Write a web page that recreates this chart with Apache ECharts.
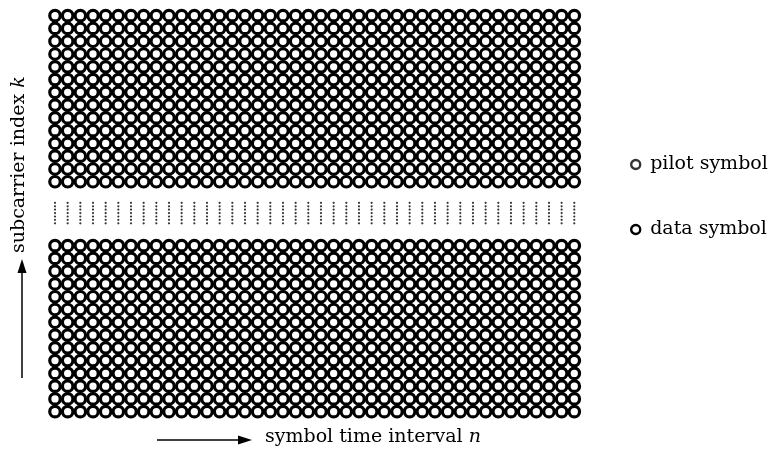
<!DOCTYPE html>
<html>
<head>
<meta charset="utf-8">
<script src="https://cdn.jsdelivr.net/npm/echarts@6/dist/echarts.min.js"></script>
<style>html,body{margin:0;padding:0;background:#fff}#c{width:782px;height:456px}</style>
</head>
<body>
<div id="c"></div>
<script>
// symbol time interval n (columns)
const symbolTimes = [0,1,2,3,4,5,6,7,8,9,10,11,12,13,14,15,16,17,18,19,20,21,22,23,24,25,26,27,28,29,30,31,32,33,34,35,36,37,38,39,40,41];
// subcarrier index k (rows), lower and upper blocks
const lowerSubcarriers = [0,1,2,3,4,5,6,7,8,9,10,11,12,13];
const upperSubcarriers = [18,19,20,21,22,23,24,25,26,27,28,29,30,31];
// vertical ellipsis dots between the blocks
const ellipsisLevels = [14.75,15.02,15.28,15.55,15.82,16.08,16.35];
// legend / axis texts
const legendNames = ['pilot symbol','data symbol'];
const xTitle = 'symbol time interval ';
const xVar = 'n';
const yTitle = 'subcarrier index ';
const yVar = 'k';

const circleData = [];
symbolTimes.forEach(n => {
  lowerSubcarriers.forEach(k => circleData.push([n,k]));
  upperSubcarriers.forEach(k => circleData.push([n,k]));
});
const dotData = [];
symbolTimes.forEach(n => ellipsisLevels.forEach(k => dotData.push([n,k])));

const serif = 'DejaVu Serif';
const chart = echarts.init(document.getElementById('c'), null, {renderer:'canvas'});
chart.setOption({
  animation:false,
  backgroundColor:'#fff',
  grid:{left:55,right:207.7,top:15.7,bottom:44.3},
  xAxis:{type:'value',min:0,max:41,show:false},
  yAxis:{type:'value',min:0,max:31,show:false},
  legend:[
    {data:[{name:legendNames[0]}],left:625,top:150,icon:'circle',itemWidth:9,itemHeight:9,
     itemStyle:{color:'#fff',borderColor:'#000',borderWidth:2.4},
     textStyle:{fontFamily:serif,fontSize:19,color:'#000',padding:[0,0,0,5]}},
    {data:[{name:legendNames[1]}],left:625,top:215,icon:'circle',itemWidth:9,itemHeight:9,
     itemStyle:{color:'#fff',borderColor:'#000',borderWidth:2.4},
     textStyle:{fontFamily:serif,fontSize:19,color:'#000',padding:[0,0,0,5]}}
  ],
  series:[
    {name:legendNames[0],type:'scatter',data:[],symbol:'circle',symbolSize:10.5,
     itemStyle:{color:'#fff',borderColor:'#000',borderWidth:3.2}},
    {name:legendNames[1],type:'scatter',data:circleData,symbol:'circle',symbolSize:10.5,silent:true,
     itemStyle:{color:'#fff',borderColor:'#000',borderWidth:3.2,opacity:1}},
    {name:'ellipsis',type:'scatter',data:dotData,symbol:'circle',symbolSize:2.2,silent:true,
     itemStyle:{color:'#000'}}
  ],
  graphic:[
    {type:'line',shape:{x1:157,y1:440,x2:240,y2:440},style:{stroke:'#000',lineWidth:1.5}},
    {type:'polygon',shape:{points:[[252,440],[238,435.5],[238,444.5]]},style:{fill:'#000'}},
    {type:'text',left:265,top:428,style:{
      text:'{a|'+xTitle+'}{b|'+xVar+'}',
      rich:{a:{fontFamily:serif,fontSize:19,fill:'#000'},b:{fontFamily:serif,fontSize:19,fontStyle:'italic',fill:'#000'}}}},
    {type:'line',shape:{x1:22,y1:378,x2:22,y2:272},style:{stroke:'#000',lineWidth:1.5}},
    {type:'polygon',shape:{points:[[22,259],[17.5,273],[26.5,273]]},style:{fill:'#000'}},
    {type:'text',x:10,y:253,rotation:Math.PI/2,style:{
      text:'{a|'+yTitle+'}{b|'+yVar+'}',
      rich:{a:{fontFamily:serif,fontSize:19,fill:'#000'},b:{fontFamily:serif,fontSize:19,fontStyle:'italic',fill:'#000'}}}}
  ]
});
</script>
</body>
</html>
